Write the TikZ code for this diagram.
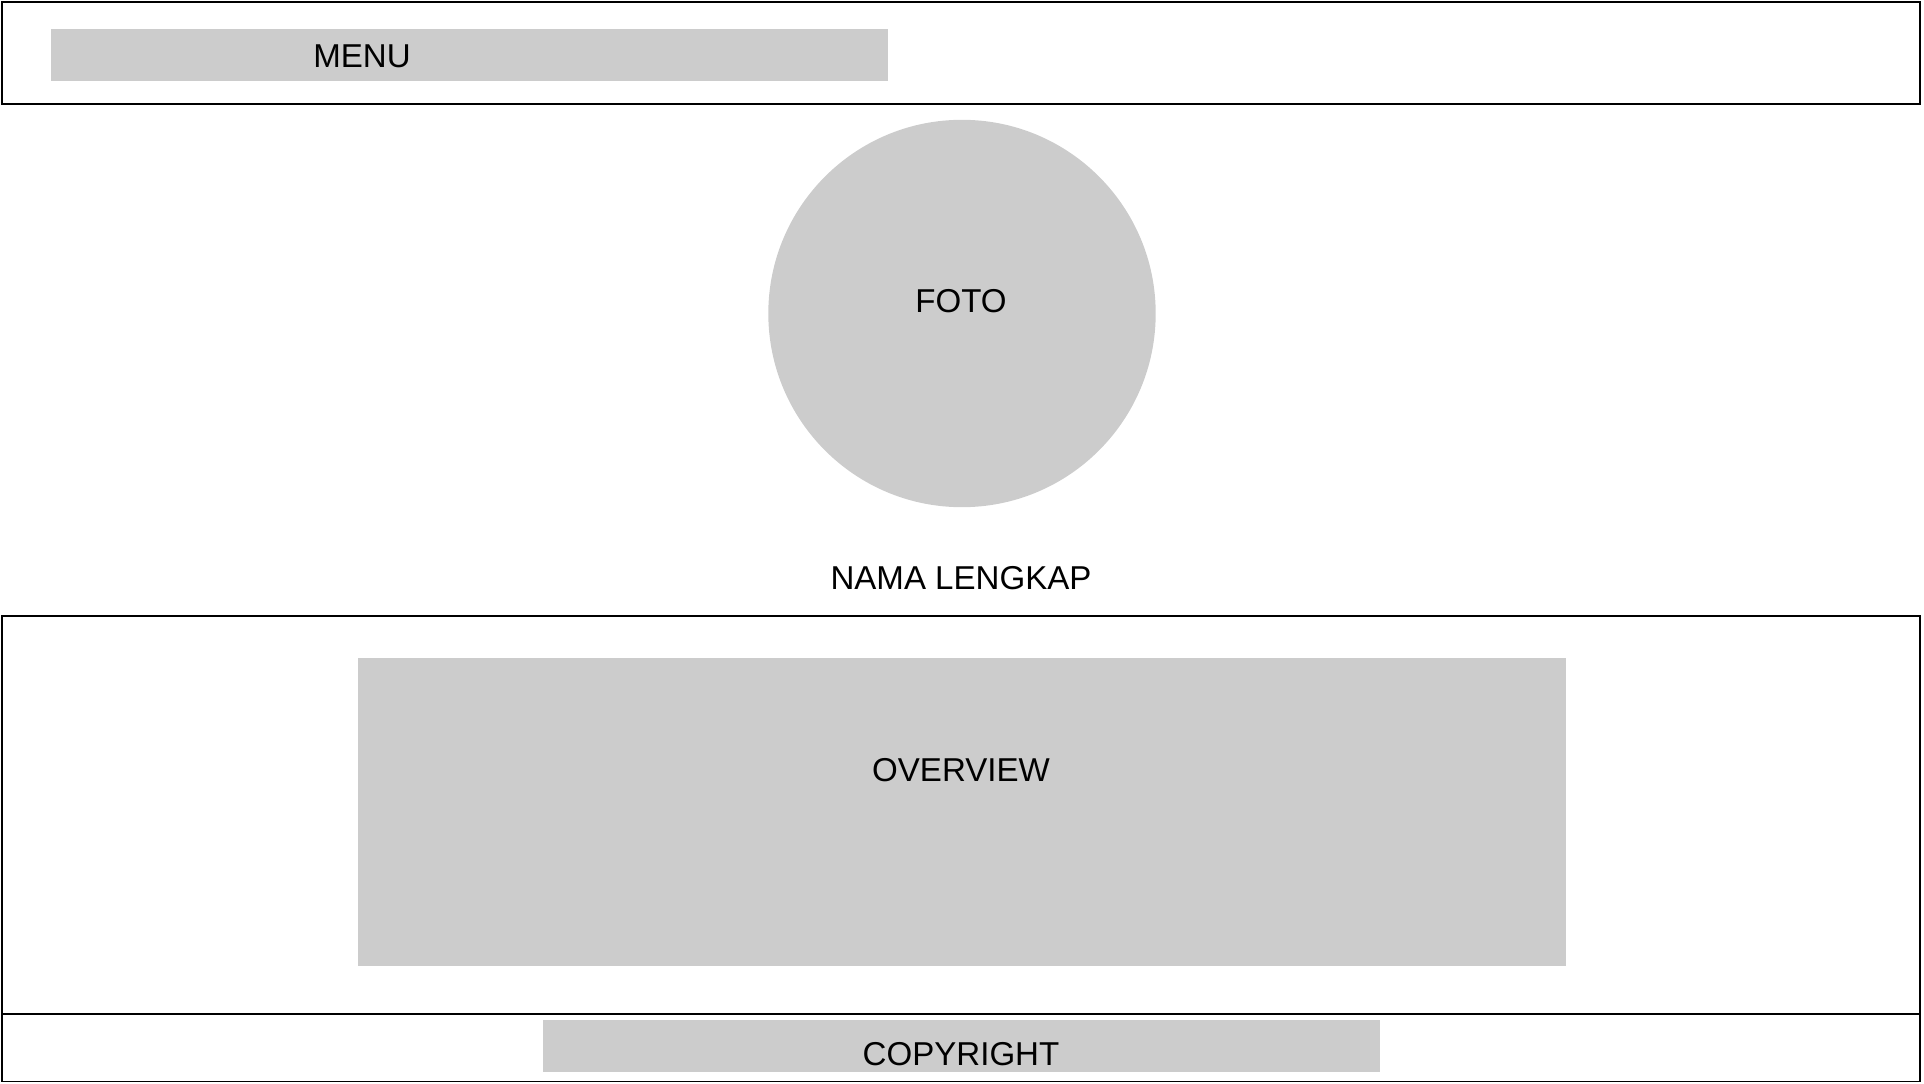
\documentclass[tikz,border=0pt]{standalone}
\usepackage{fontspec}
\setmainfont{Liberation Sans}
\definecolor{boxgray}{HTML}{CCCCCC}
\tikzset{
  frame/.style={draw=black, line width=1.6pt*0.75, fill=none},
  block/.style={fill=boxgray, draw=none},
  lbl/.style={font=\fontsize{24.8pt}{29pt}\selectfont, text=black, inner sep=0pt, anchor=base},
}
\begin{document}
\begin{tikzpicture}[x=0.75pt, y=-0.75pt]
\useasboundingbox (0,0) rectangle (1924,1084);
% header
\draw[frame] (2,2) rectangle (1920,104);
\fill[block] (51,29) rectangle (888,81);
\node[lbl] (menu) at (362,68) {MENU};
% photo
\fill[block] (962,313.5) circle (193.7);
\node[lbl] (foto) at (961,312.5) {FOTO};
\node[lbl] (nama) at (961,589) {NAMA LENGKAP};
% main
\draw[frame] (2,616) rectangle (1920,1014);
\fill[block] (358,658) rectangle (1566,966);
\node[lbl] (overview) at (961,781) {OVERVIEW};
% footer
\draw[frame] (2,1014) rectangle (1920,1081.5);
\fill[block] (543,1020) rectangle (1380,1071.5);
\node[lbl] (copyright) at (961,1065) {COPYRIGHT};
\end{tikzpicture}
\end{document}
